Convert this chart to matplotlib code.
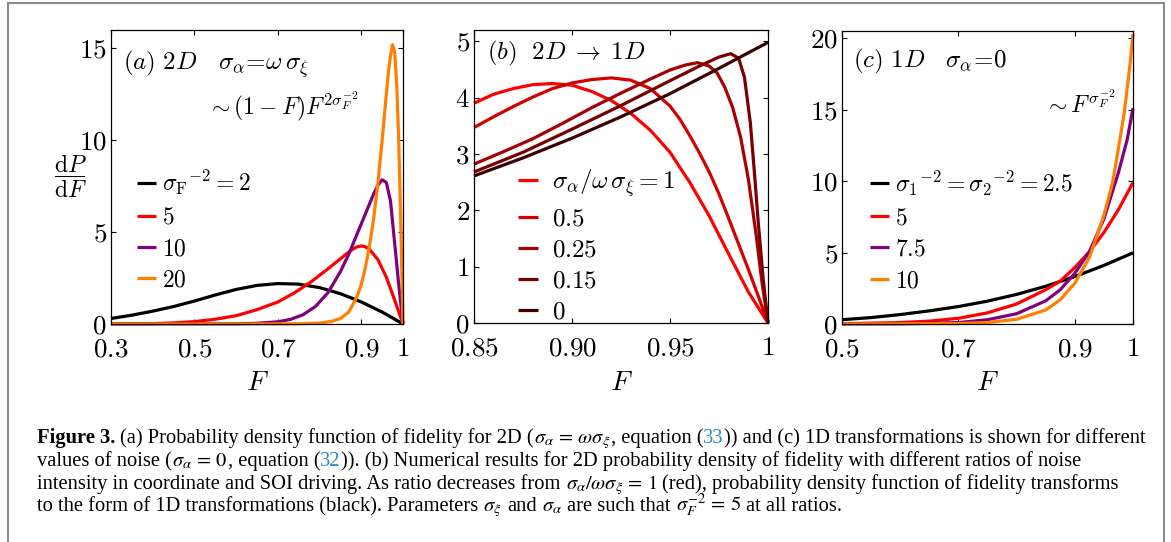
import matplotlib
matplotlib.use('Agg')
import matplotlib.pyplot as plt
from matplotlib.patches import Rectangle

# ---- panel (a): 2D, sigma_alpha = omega sigma_xi ----
a_labels = [r'$\sigma_{\rm F}{}^{-2}=2$', r'$5$', r'$10$', r'$20$']
a_colors = ['black', '#ff0000', '#800080', '#ff8000']
a_F_black = [0.30, 0.35, 0.40, 0.45, 0.50, 0.55, 0.60, 0.65, 0.70, 0.75, 0.80, 0.85, 0.90, 0.95, 0.975, 1.00]
a_P_black = [0.30, 0.48, 0.70, 0.95, 1.25, 1.58, 1.88, 2.10, 2.20, 2.17, 1.98, 1.65, 1.20, 0.65, 0.33, 0.00]
a_F_red = [0.30, 0.40, 0.45, 0.50, 0.55, 0.60, 0.65, 0.70, 0.74, 0.78, 0.82, 0.85, 0.87, 0.88, 0.89,
           0.90, 0.91, 0.92, 0.94, 0.96, 0.98, 1.00]
a_P_red = [0.00, 0.02, 0.06, 0.13, 0.26, 0.45, 0.78, 1.20, 1.70, 2.30, 3.00, 3.55, 3.92, 4.08, 4.20,
           4.25, 4.20, 4.05, 3.50, 2.55, 1.30, 0.00]
a_F_purple = [0.30, 0.60, 0.65, 0.70, 0.73, 0.76, 0.79, 0.82, 0.85, 0.87, 0.89, 0.91, 0.93, 0.94,
              0.95, 0.96, 0.97, 0.98, 0.99, 1.00]
a_P_purple = [0.00, 0.01, 0.04, 0.12, 0.25, 0.50, 0.95, 1.70, 2.85, 3.80, 4.90, 6.00, 7.10, 7.55,
              7.85, 7.70, 6.70, 4.40, 2.10, 0.00]
a_F_orange = [0.30, 0.60, 0.75, 0.80, 0.83, 0.85, 0.87, 0.89, 0.90, 0.91, 0.92, 0.93, 0.94, 0.95,
              0.96, 0.965, 0.97, 0.975, 0.98, 0.985, 0.99, 0.995, 1.00]
a_P_orange = [0.00, 0.00, 0.01, 0.05, 0.15, 0.30, 0.65, 1.50, 2.15, 3.10, 4.30, 5.80, 7.70, 10.00,
              12.50, 13.70, 14.60, 15.20, 14.80, 13.00, 9.80, 5.20, 0.00]

# ---- panel (b): 2D -> 1D, different sigma_alpha / omega sigma_xi ----
b_labels = [r'$\sigma_\alpha/\omega\,\sigma_\xi=1$', r'$0.5$', r'$0.25$', r'$0.15$', r'$0$']
b_colors = ['#ff0000', '#d40000', '#a80000', '#780000', '#3c0000']
b_F_r1 = [0.85, 0.86, 0.87, 0.88, 0.89, 0.90, 0.91, 0.92, 0.93, 0.94, 0.95, 0.96, 0.97, 0.98, 0.99, 1.00]
b_P_r1 = [3.90, 4.06, 4.16, 4.23, 4.25, 4.22, 4.11, 3.95, 3.72, 3.42, 3.03, 2.50, 1.90, 1.22, 0.55, 0.00]
b_F_r05 = [0.85, 0.86, 0.87, 0.88, 0.89, 0.90, 0.91, 0.92, 0.93, 0.94, 0.95, 0.955, 0.96, 0.965, 0.97,
           0.975, 0.98, 0.985, 0.99, 0.995, 1.00]
b_P_r05 = [3.47, 3.66, 3.84, 4.01, 4.16, 4.26, 4.32, 4.35, 4.31, 4.16, 3.85, 3.62, 3.33, 3.02, 2.68,
           2.29, 1.85, 1.40, 0.95, 0.48, 0.00]
b_F_r025 = [0.85, 0.865, 0.88, 0.895, 0.91, 0.925, 0.94, 0.95, 0.958, 0.964, 0.970, 0.974, 0.978,
            0.982, 0.986, 0.990, 0.994, 0.997, 1.00]
b_P_r025 = [2.82, 3.04, 3.27, 3.54, 3.82, 4.08, 4.33, 4.49, 4.58, 4.62, 4.56, 4.44, 4.18, 3.82,
            3.30, 2.55, 1.55, 0.70, 0.00]
b_F_r015 = [0.85, 0.875, 0.90, 0.925, 0.95, 0.965, 0.975, 0.981, 0.985, 0.988, 0.991, 0.993, 0.995,
            0.9975, 1.00]
b_P_r015 = [2.68, 3.03, 3.44, 3.86, 4.30, 4.56, 4.72, 4.78, 4.70, 4.36, 3.55, 2.70, 1.80, 0.80, 0.00]
b_F_r0 = [0.85, 0.875, 0.90, 0.925, 0.95, 0.975, 1.00]
b_P_r0 = [2.61, 2.93, 3.28, 3.66, 4.07, 4.52, 4.98]

# ---- panel (c): 1D, sigma_alpha = 0 ----
c_labels = [r'$\sigma_1{}^{-2}=\sigma_2{}^{-2}=2.5$', r'$5$', r'$7.5$', r'$10$']
c_colors = ['black', '#ff0000', '#800080', '#ff8000']
c_F_black = [0.50, 0.55, 0.60, 0.65, 0.70, 0.75, 0.80, 0.85, 0.90, 0.95, 1.00]
c_P_black = [0.30, 0.45, 0.66, 0.92, 1.22, 1.60, 2.07, 2.64, 3.32, 4.10, 4.98]
c_F_red = [0.50, 0.60, 0.65, 0.70, 0.75, 0.80, 0.85, 0.875, 0.90, 0.925, 0.95, 0.975, 1.00]
c_P_red = [0.02, 0.10, 0.20, 0.40, 0.78, 1.40, 2.40, 3.00, 3.95, 5.05, 6.40, 8.00, 9.90]
c_F_purple = [0.50, 0.60, 0.70, 0.75, 0.80, 0.85, 0.875, 0.90, 0.925, 0.95, 0.975, 0.99, 1.00]
c_P_purple = [0.00, 0.01, 0.10, 0.30, 0.72, 1.62, 2.40, 3.55, 5.05, 7.35, 10.60, 12.90, 15.10]
c_F_orange = [0.50, 0.70, 0.75, 0.80, 0.85, 0.875, 0.90, 0.925, 0.95, 0.965, 0.975, 0.985, 0.995, 1.00]
c_P_orange = [0.00, 0.03, 0.10, 0.33, 0.98, 1.70, 2.85, 4.65, 7.60, 9.90, 12.30, 14.80, 18.20, 20.30]

caption_lines = [
    [("Figure 3.", 'b'), (" (a) Probability density function of fidelity for 2D (", 'n'),
     (r"$\sigma_\alpha\,=\,\omega\sigma_\xi$", 'n'), (", equation (", 'n'), ("33", 'l'),
     (")) and (c) 1D transformations is shown for different", 'n')],
    [("values of noise (", 'n'), (r"$\sigma_\alpha\,=\,0$", 'n'), (", equation (", 'n'), ("32", 'l'),
     (")). (b) Numerical results for 2D probability density of fidelity with different ratios of noise", 'n')],
    [("intensity in coordinate and SOI driving. As ratio decreases from ", 'n'),
     (r"$\sigma_\alpha/\omega\sigma_\xi\,=\,1$", 'n'),
     (" (red), probability density function of fidelity transforms", 'n')],
    [("to the form of 1D transformations (black). Parameters ", 'n'), (r"$\sigma_\xi$", 'n'),
     (" and ", 'n'), (r"$\sigma_\alpha$", 'n'), (" are such that ", 'n'),
     (r"$\sigma_F^{-2}\,=\,5$", 'n'), (" at all ratios.", 'n')],
]

plt.rcParams['mathtext.fontset'] = 'cm'
plt.rcParams['font.family'] = ['Liberation Serif', 'DejaVu Serif']

W, H = 1171, 542
fig = plt.figure(figsize=(W / 100, H / 100), dpi=100)
FS = 17        # legends
TICK_FS = 19.5
TITLE_FS = 18


def add_axes_px(left, top, right, bottom):
    return fig.add_axes([left / W, 1 - bottom / H, (right - left) / W, (bottom - top) / H])


def style(ax, xlim, ylim, xticks, xlabels, yticks):
    ax.set_xlim(*xlim)
    ax.set_ylim(*ylim)
    ax.set_xticks(xticks, [f'${t}$' for t in xlabels])
    ax.set_yticks(yticks, [f'${t}$' for t in yticks])
    ax.tick_params(direction='in', top=True, right=True, length=3.5, width=0.8, labelsize=TICK_FS)
    ax.tick_params(axis='x', pad=9.5)
    ax.tick_params(axis='y', pad=3)
    for s in ax.spines.values():
        s.set_linewidth(0.9)


def draw(ax, Fs, Ps, colors, labels, anchor, spacing, textpad, size):
    handles = []
    for F, P, col in zip(Fs, Ps, colors):
        h, = ax.plot(F, P, color=col, lw=2.3, clip_on=False, solid_capstyle='butt')
        handles.append(h)
    ax.legend(handles, labels, loc='upper left', bbox_to_anchor=anchor, frameon=False,
              fontsize=size, handlelength=0.8, handletextpad=textpad, labelspacing=spacing,
              borderpad=0, borderaxespad=0)


ax_a = add_axes_px(111, 30, 403, 324)
ax_b = add_axes_px(474, 30, 768, 323)
ax_c = add_axes_px(842, 31, 1133, 324)

style(ax_a, (0.3, 1.0), (0, 16), [0.3, 0.5, 0.7, 0.9, 1.0], ['0.3', '0.5', '0.7', '0.9', '1'], [0, 5, 10, 15])
style(ax_b, (0.85, 1.0), (0, 5.2), [0.85, 0.90, 0.95, 1.0], ['0.85', '0.90', '0.95', '1'], [0, 1, 2, 3, 4, 5])
style(ax_c, (0.5, 1.0), (0, 20.5), [0.5, 0.7, 0.9, 1.0], ['0.5', '0.7', '0.9', '1'], [0, 5, 10, 15, 20])

draw(ax_a, [a_F_black, a_F_red, a_F_purple, a_F_orange], [a_P_black, a_P_red, a_P_purple, a_P_orange],
     a_colors, a_labels, (0.089, 0.53), 0.42, 0.25, FS)
draw(ax_b, [b_F_r1, b_F_r05, b_F_r025, b_F_r015, b_F_r0], [b_P_r1, b_P_r05, b_P_r025, b_P_r015, b_P_r0],
     b_colors, b_labels, (0.15, 0.53), 0.34, 0.55, 18)
draw(ax_c, [c_F_black, c_F_red, c_F_purple, c_F_orange], [c_P_black, c_P_red, c_P_purple, c_P_orange],
     c_colors, c_labels, (0.096, 0.53), 0.42, 0.25, FS)

ax_a.text(0.041, 0.864, r'$(a)\ 2D\ \ \ \sigma_\alpha\!=\!\omega\,\sigma_\xi$', transform=ax_a.transAxes,
          fontsize=TITLE_FS, va='baseline')
ax_a.text(0.33, 0.714, r'$\sim(1-F)F^{2\sigma_F^{-2}}$', transform=ax_a.transAxes, fontsize=FS,
          va='baseline')
ax_b.text(0.044, 0.898, r'$(b)\ \ 2D\;\rightarrow\;1D$', transform=ax_b.transAxes, fontsize=TITLE_FS,
          va='baseline')
ax_c.text(0.038, 0.877, r'$(c)\ 1D\ \ \ \sigma_\alpha\!=\!0$', transform=ax_c.transAxes, fontsize=TITLE_FS,
          va='baseline')
ax_c.text(0.695, 0.72, r'$\sim F^{\sigma_F^{-2}}$', transform=ax_c.transAxes, fontsize=FS, va='baseline')

fig.text(70 / W, 1 - 176 / H, r'$\dfrac{\mathrm{d}P}{\mathrm{d}F}$', fontsize=17, ha='center', va='center')
for ax in (ax_a, ax_b, ax_c):
    x0, x1 = ax.get_position().x0, ax.get_position().x1
    fig.text((x0 + x1) / 2, 1 - 384 / H, r'$F$', fontsize=20, ha='center', va='center')

# outer frame
fig.patches.append(Rectangle((8 / W, -0.05), (1164 - 8) / W, 1 - 3 / H + 0.05, transform=fig.transFigure,
                             fill=False, edgecolor='#8c8c8c', linewidth=1.5))

# caption, drawn piece by piece
renderer = fig.canvas.get_renderer()
STYLES = {'n': {}, 'b': {'weight': 'bold'}, 'l': {'color': '#2a8dc8'}}


def width_px(s, size, **kw):
    t = fig.text(0, 0, s, fontsize=size, math_fontfamily='stix', **kw)
    w = t.get_window_extent(renderer).width
    t.remove()
    return w


def draw_line(pieces, x, y, size):
    space = width_px('a a', size) - width_px('aa', size)
    artists = []
    for s, st in pieces:
        lead = len(s) - len(s.lstrip(' '))
        trail = len(s) - len(s.rstrip(' '))
        x += lead * space
        t = fig.text(x / W, 1 - y / H, s.strip(' '), fontsize=size, va='baseline',
                     math_fontfamily='stix', **STYLES[st])
        x += t.get_window_extent(renderer).width + trail * space
        artists.append(t)
    return artists, x


size = 13.0
arts, xend = draw_line(caption_lines[0], 37, 444, size)
for a in arts:
    a.remove()
size = size * (1142 - 37) / (xend - 37)
for line, y in zip(caption_lines, [443, 466, 489, 511]):
    draw_line(line, 37, y, size)

fig.savefig('out.png', dpi=100)
